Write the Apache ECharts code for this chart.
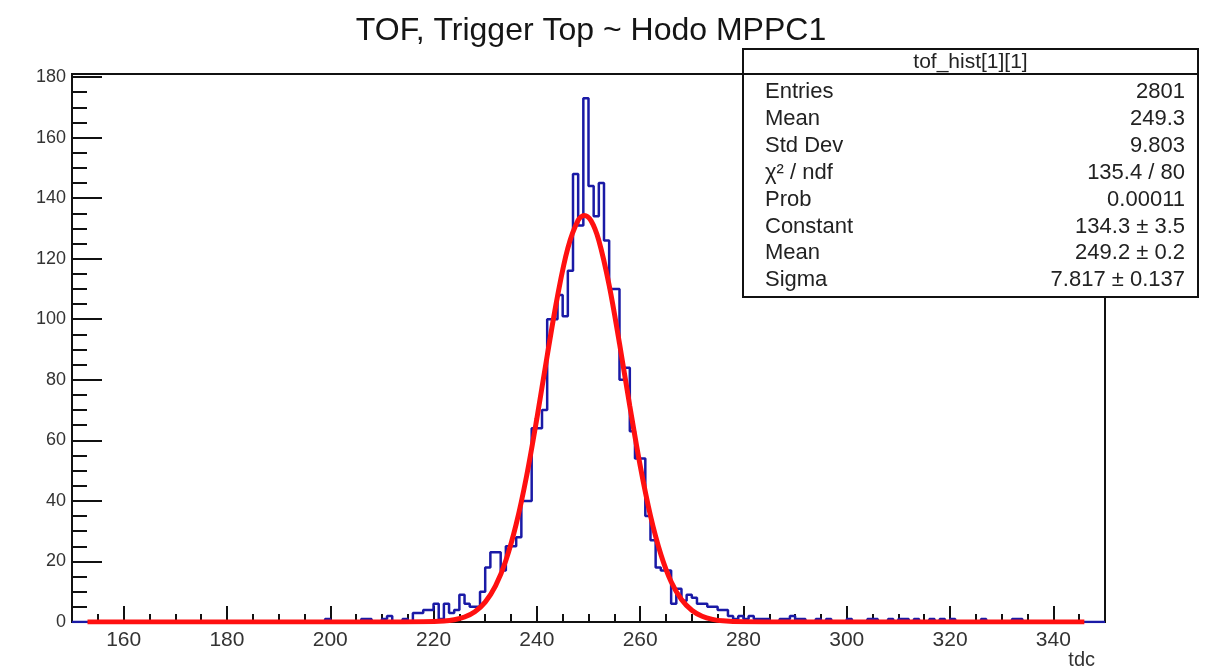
<!DOCTYPE html>
<html>
<head>
<meta charset="utf-8">
<script src="https://cdn.jsdelivr.net/npm/echarts@6/dist/echarts.min.js"></script>
<style>
html,body{margin:0;padding:0;background:#fff;}
#chart{width:1221px;height:671px;}
</style>
</head>
<body>
<div id="chart"></div>
<script>
// ---- data ----
const titleText = 'TOF, Trigger Top ~ Hodo MPPC1';
const xAxisName = 'tdc';
const binLow = 150;      // first bin edge
const binWidth = 1;      // tdc units per bin
// counts per bin, starting at tdc = 150 (200 bins, 150..350)
const counts = [
  0,0,0,0,0,0,0,0,0,0,   // 150-159
  0,0,0,0,0,0,0,0,0,0,   // 160-169
  0,0,0,0,0,0,0,0,0,0,   // 170-179
  0,0,0,0,0,0,0,0,0,0,   // 180-189
  0,0,0,0,0,0,0,0,0,1,   // 190-199
  0,0,0,0,0,0,1,1,0,0,   // 200-209
  1,2,0,0,1,0,3,3,4,4,   // 210-219
  6,1,6,3,4,9,6,5,5,10,  // 220-229
  18,23,23,17,25,25,28,40,40,64,        // 230-239
  64,70,100,100,108,101,116,148,131,173,// 240-249
  144,134,145,126,110,110,80,84,63,54,  // 250-259
  54,35,27,18,17,17,6,11,7,9,           // 260-269
  8,6,6,5,5,4,4,2,1,2,   // 270-279
  1,2,1,1,1,0,0,1,1,2,   // 280-289
  1,1,0,0,1,0,1,0,0,0,   // 290-299
  1,0,0,0,1,1,0,0,1,0,   // 300-309
  1,1,0,1,0,0,1,0,1,0,   // 310-319
  1,0,0,0,0,0,1,0,0,0,   // 320-329
  0,0,1,1,0,0,0,0,0,0,   // 330-339
  0,0,0,0,0,0,0,0,0,0    // 340-349
];
// gaussian fit curve
const fitX = [153, 214, 218, 222, 224, 226, 228, 230, 232, 234, 236, 238, 240, 242, 244, 246, 248, 249.2, 250.5, 252, 254, 256, 258, 260, 262, 264, 266, 268, 270, 272, 274, 276, 280, 284, 346];
const fitY = [0, 0.01, 0.05, 0.32, 0.74, 1.64, 3.39, 6.58, 11.9, 20.3, 32.3, 48.1, 67.2, 87.9, 107.6, 123.5, 132.7, 134.3, 132.5, 126.0, 111.2, 92.0, 71.3, 51.7, 35.1, 22.4, 13.3, 7.45, 3.89, 1.91, 0.88, 0.38, 0.05, 0.01, 0];
// axis ticks / labels
const xMajorTicks = [160, 180, 200, 220, 240, 260, 280, 300, 320, 340];
const yMajorTicks = [0, 20, 40, 60, 80, 100, 120, 140, 160, 180];
const yMinorTicks = [5,10,15,25,30,35,45,50,55,65,70,75,85,90,95,105,110,115,125,130,135,145,150,155,165,170,175];
const xRange = [150, 350];
const yRange = [0, 181];
// stats box
const statsTitle = 'tof_hist[1][1]';
const statsNames = ['Entries', 'Mean', 'Std Dev', 'χ² / ndf', 'Prob', 'Constant', 'Mean', 'Sigma'];
const statsValues = ['2801', '249.3', '9.803', '135.4 / 80', '0.00011', '134.3 ± 3.5', '249.2 ± 0.2', '7.817 ± 0.137'];

// ---- build ----
const FONT = '"Liberation Sans", Arial, Helvetica, sans-serif';
const histData = counts.map((c, i) => [binLow + i * binWidth, c]);
histData.push([binLow + counts.length * binWidth, counts[counts.length - 1]]);
const fitData = fitX.map((x, i) => [x, fitY[i]]);

const G = {left: 72, right: 116, top: 74, bottom: 49};
const chart = echarts.init(document.getElementById('chart'), null, {renderer: 'canvas'});

const box = {x: 743, y: 49, w: 455, h: 248, head: 25, rowTop: 92, rowStep: 26.9};
const graphics = [
  {type: 'text', x: 591, y: 31, style: {text: titleText, font: '32px ' + FONT, fill: '#151515', textAlign: 'center', textVerticalAlign: 'middle'}, z: 100},
  {type: 'text', x: 1095, y: 660, style: {text: xAxisName, font: '20px ' + FONT, fill: '#333', textAlign: 'right', textVerticalAlign: 'middle'}, z: 100},
  {type: 'rect', shape: {x: box.x, y: box.y, width: box.w, height: box.h}, style: {fill: '#fff', stroke: '#111', lineWidth: 2}, z: 100},
  {type: 'line', shape: {x1: box.x, y1: box.y + box.head, x2: box.x + box.w, y2: box.y + box.head}, style: {stroke: '#111', lineWidth: 2}, z: 101},
  {type: 'text', x: box.x + box.w / 2, y: box.y + box.head / 2 + 1, style: {text: statsTitle, font: '21px ' + FONT, fill: '#222', textAlign: 'center', textVerticalAlign: 'middle'}, z: 101}
];
statsNames.forEach((n, i) => {
  const y = box.rowTop + i * box.rowStep;
  graphics.push({type: 'text', x: 765, y: y, style: {text: n, font: '22px ' + FONT, fill: '#222', textAlign: 'left', textVerticalAlign: 'middle'}, z: 101});
  graphics.push({type: 'text', x: 1185, y: y, style: {text: statsValues[i], font: '22px ' + FONT, fill: '#222', textAlign: 'right', textVerticalAlign: 'middle'}, z: 101});
});

const axisLineStyle = {color: '#111', width: 2};
const option = {
  animation: false,
  backgroundColor: '#fff',
  grid: Object.assign({show: true, borderColor: '#111', borderWidth: 2, backgroundColor: 'transparent', containLabel: false}, G),
  xAxis: [
    {type: 'value', min: xRange[0], max: xRange[1], interval: 5, position: 'bottom',
     axisLine: {show: true, onZero: false, lineStyle: axisLineStyle},
     axisTick: {show: true, inside: true, length: 8, lineStyle: {color: '#111', width: 2}},
     axisLabel: {show: false}, splitLine: {show: false}},
    {type: 'value', min: xRange[0], max: xRange[1], position: 'bottom',
     axisLine: {show: false, onZero: false},
     axisTick: {show: true, inside: true, length: 16, customValues: xMajorTicks, lineStyle: {color: '#111', width: 2}},
     axisLabel: {show: true, customValues: xMajorTicks, margin: 8, fontFamily: FONT, fontSize: 21, color: '#333'},
     splitLine: {show: false}}
  ],
  yAxis: [
    {type: 'value', min: yRange[0], max: yRange[1], position: 'left',
     axisLine: {show: true, onZero: false, lineStyle: axisLineStyle},
     axisTick: {show: true, inside: true, length: 30, customValues: yMajorTicks, lineStyle: {color: '#111', width: 2}},
     axisLabel: {show: true, customValues: yMajorTicks, margin: 6, fontFamily: FONT, fontSize: 18, color: '#333'},
     splitLine: {show: false}},
    {type: 'value', min: yRange[0], max: yRange[1], position: 'left',
     axisLine: {show: false, onZero: false},
     axisTick: {show: true, inside: true, length: 15, customValues: yMinorTicks, lineStyle: {color: '#111', width: 2}},
     axisLabel: {show: false}, splitLine: {show: false}}
  ],
  series: [
    {type: 'line', name: 'hist', xAxisIndex: 0, yAxisIndex: 0, data: histData, step: 'end', showSymbol: false, symbol: 'none',
     lineStyle: {color: '#1a1aa6', width: 2.5}, z: 3, clip: true},
    {type: 'line', name: 'fit', xAxisIndex: 0, yAxisIndex: 0, data: fitData, smooth: 0.35, showSymbol: false, symbol: 'none',
     lineStyle: {color: '#ff1010', width: 5}, z: 4, clip: true}
  ],
  graphic: graphics
};
chart.setOption(option);
</script>
</body>
</html>
